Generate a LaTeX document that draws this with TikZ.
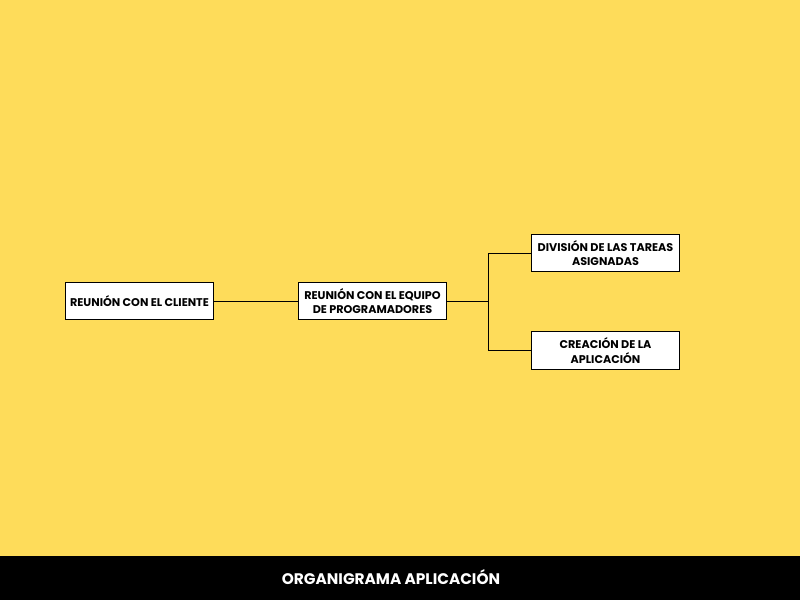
\documentclass[tikz,border=0pt]{standalone}
\usepackage{fontspec}
\setmainfont{Poppins}
\usetikzlibrary{positioning}
\definecolor{fondo}{HTML}{FEDC5A}
\tikzset{
  caja/.style={draw=black, fill=white, line width=0.6pt, align=center,
    minimum width=111.5pt, minimum height=28pt, inner sep=2pt,
    font=\fontsize{8.4}{11}\selectfont\bfseries},
  linea/.style={draw=black, line width=0.6pt}
}
\begin{document}
\begin{tikzpicture}[x=0.75pt, y=-0.75pt]
    \fill[fondo] (0,0) rectangle (800,600);
    \useasboundingbox (0,0) rectangle (800,600);
    % Bottom bar
    \fill[black] (0,556) rectangle (800,600);
    \node[text=white, font=\fontsize{11.5}{13}\selectfont\bfseries] (titulo) at (391,577) {ORGANIGRAMA APLICACIÓN};
    % Boxes
    \node[caja] (cliente) at (139.5,301) {REUNIÓN CON EL CLIENTE};
    \node[caja] (equipo) at (372.5,301) {REUNIÓN CON EL EQUIPO\\DE PROGRAMADORES};
    \node[caja] (tareas) at (605.5,253) {DIVISIÓN DE LAS TAREAS\\ASIGNADAS};
    \node[caja] (creacion) at (605.5,350.5) {CREACIÓN DE LA\\APLICACIÓN};
    % Connectors
    \coordinate (rama) at (488,301);
    \draw[linea] (cliente.east) -- (equipo.west);
    \draw[linea] (equipo.east) -- (rama);
    \draw[linea] (rama) |- (tareas.west);
    \draw[linea] (rama) |- (creacion.west);
\end{tikzpicture}
\end{document}
